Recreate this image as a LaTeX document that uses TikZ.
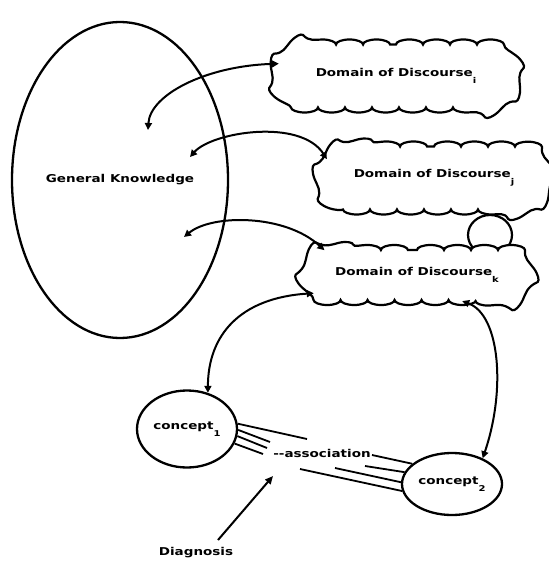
\documentclass[tikz,border=0pt]{standalone}
\usepackage{fontspec}
\newfontfamily\dfont[FakeStretch=1.25]{DejaVu Sans}
\usetikzlibrary{shapes.geometric,shapes.misc,arrows.meta,decorations.pathmorphing}
\begin{document}
\begin{tikzpicture}[x=1pt,y=-1pt,
  lbl/.style={font=\dfont\bfseries\fontsize{10.8}{12}\selectfont, inner sep=0pt},
  blob/.style={draw, line width=2.3pt, ellipse, inner sep=0pt, lbl},
  puff/.style={draw, line width=2.2pt, rounded rectangle, inner sep=0pt, fill=white, lbl,
    decorate, decoration={bumps, segment length=54pt, amplitude=5pt}},
  link/.style={line width=2pt, {Triangle[length=7pt,width=7pt]}-{Triangle[length=7pt,width=7pt]}},
  assoc/.style={line width=1.8pt}
]
\useasboundingbox (0,0) rectangle (548,564);
\newcommand{\lowsub}[1]{\raisebox{-7pt}{\fontsize{8}{8}\selectfont #1}}

% general knowledge
\node[blob, minimum width=216pt, minimum height=316pt] (gk) at (120,180) {General Knowledge};

% clouds
\node[draw, line width=2.2pt, ellipse, inner sep=0pt, minimum width=44pt, minimum height=40pt] (cs) at (490,235) {};
\node[puff, minimum width=237pt, minimum height=63pt] (ci) at (396,76) {Domain of Discourse\lowsub{i}};
\node[puff, minimum width=224pt, minimum height=63pt] (cj) at (434,178) {Domain of Discourse\lowsub{j}};
\node[puff, minimum width=219pt, minimum height=50pt] (ck) at (417,275) {Domain of Discourse\lowsub{k}};

% concepts
\node[blob, minimum width=100pt, minimum height=77pt] (c1) at (187,429) {concept\lowsub{1}};
\node[blob, minimum width=100pt, minimum height=62pt] (c2) at (452,484) {concept\lowsub{2}};

% inner points of general knowledge
\coordinate (k1) at (148,130);
\coordinate (k2) at (190,157);
\coordinate (k3) at (184,237);

\draw[link] (k1) .. controls (150,95) and (205,66) .. (ci.174);
\draw[link] (k2) .. controls (212,132) and (300,118) .. (cj.170);
\draw[link] (k3) .. controls (212,214) and (285,214) .. (ck.165);
\draw[link] (ck.190) .. controls (240,298) and (208,335) .. (c1.60);
\draw[link] (ck.-30) .. controls (500,315) and (506,390) .. (c2.40);

% association
\coordinate (a1) at (307,439);
\coordinate (a2) at (270,442);
\coordinate (a3) at (267,448);
\coordinate (a4) at (263,454);
\coordinate (b1) at (372,455);
\coordinate (b2) at (365,466);
\coordinate (b3) at (335,468);
\coordinate (b4) at (300,469);
\draw[assoc] (c1.6) -- (a1);
\draw[assoc] (c1.-1) -- (a2);
\draw[assoc] (c1.-8) -- (a3);
\draw[assoc] (c1.-17) -- (a4);
\draw[assoc] (c2.153) -- (b1);
\draw[assoc] (c2.166) -- (b2);
\draw[assoc] (c2.178) -- (b3);
\draw[assoc] (c2.188) -- (b4);
\node[lbl] (as) at (322,453) {-{}-association};

% diagnosis
\node[lbl] (diag) at (196,553) {Diagnosis};
\coordinate (dtail) at (218,540);
\coordinate (dtip) at (273,476);
\draw[line width=2pt, -{Triangle[length=8pt,width=7pt]}] (dtail) -- (dtip);
\end{tikzpicture}
\end{document}
